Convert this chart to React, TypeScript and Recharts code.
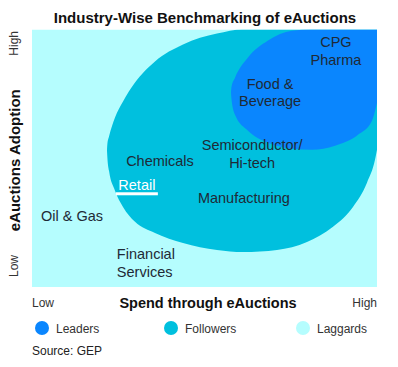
import React from 'react';
import { ComposedChart, Area, XAxis, YAxis, Scatter, Label } from 'recharts';

const FONT = '"Liberation Sans", Arial, Helvetica, sans-serif';

const title = 'Industry-Wise Benchmarking of eAuctions';
const xAxisTitle = 'Spend through eAuctions';
const yAxisTitle = 'eAuctions Adoption';
const axisTicks = [0, 100];
const tickLabels = ['Low', 'High'];
const segments = ['Leaders', 'Followers', 'Laggards'];
const segmentColors = ['#0a86fe', '#00c0de', '#b5fdfe'];
const sourceText = 'Source: GEP';

// Segment outlines on a 0-100 spend (x) / adoption (y) scale: [low, high]
const laggardsOutline = [
  { x: 0, range: [0, 100] },
  { x: 100, range: [0, 100] },
];

const followersOutline = [
  { x: 21.74, range: [52.9, 52.9] },
  { x: 21.85, range: [50.2, 55.6] },
  { x: 22.32, range: [45.1, 58.4] },
  { x: 24.06, range: [37.4, 65.8] },
  { x: 26.38, range: [31.1, 72.0] },
  { x: 29.86, range: [25.3, 79.4] },
  { x: 35.65, range: [21.0, 87.6] },
  { x: 43.77, range: [17.1, 94.2] },
  { x: 53.62, range: [14.4, 98.4] },
  { x: 61.16, range: [13.6, 100] },
  { x: 71.01, range: [14.4, 100] },
  { x: 79.71, range: [17.5, 100] },
  { x: 87.25, range: [23.4, 100] },
  { x: 93.04, range: [31.1, 100] },
  { x: 97.1, range: [40.5, 100] },
  { x: 99.42, range: [49.4, 100] },
  { x: 100, range: [53.3, 100] },
];

const leadersOutline = [
  { x: 57.68, range: [75.5, 75.5] },
  { x: 57.83, range: [72.8, 77.8] },
  { x: 58.84, range: [66.9, 81.3] },
  { x: 62.61, range: [60.7, 89.1] },
  { x: 68.41, range: [56.0, 95.7] },
  { x: 75.36, range: [53.7, 99.5] },
  { x: 81.16, range: [53.3, 100] },
  { x: 87.83, range: [54.9, 100] },
  { x: 94.49, range: [59.1, 100] },
  { x: 98.55, range: [64.6, 100] },
  { x: 100, range: [71.6, 100] },
];

const industries = [
  { name: 'CPG\nPharma', x: 88.1, y: 91.6 },
  { name: 'Food &\nBeverage', x: 69.0, y: 75.5 },
  { name: 'Semiconductor/\nHi-tech', x: 63.8, y: 51.6 },
  { name: 'Chemicals', x: 37.1, y: 49.0 },
  { name: 'Retail', x: 30.4, y: 39.7 },
  { name: 'Manufacturing', x: 61.4, y: 34.6 },
  { name: 'Oil & Gas', x: 11.6, y: 27.6 },
  { name: 'Financial\nServices', x: 24.6, y: 9.3 },
];

const highlighted = 'Retail';
const leftAligned = 'Financial\nServices';

const IndustryLabel = (props: any) => {
  const { cx, cy, payload } = props;
  const lines: string[] = String(payload.name).split('\n');
  const isHighlight = payload.name === highlighted;
  const anchor = payload.name === leftAligned ? 'start' : 'middle';
  const lh = 17.5;
  const startY = cy - ((lines.length - 1) * lh) / 2 + 5;
  return (
    <g>
      {lines.map((l, i) => (
        <text
          key={i}
          x={cx}
          y={startY + i * lh}
          textAnchor={anchor}
          fontSize={14.5}
          fontFamily={FONT}
          fill={isHighlight ? '#ffffff' : '#1f2a36'}
        >
          {l}
        </text>
      ))}
      {isHighlight && <rect x={cx - 21} y={cy + 7.5} width={42} height={3} fill="#ffffff" />}
    </g>
  );
};

const XTick = (props: any) => {
  const { x, y, payload } = props;
  const idx = axisTicks.indexOf(payload.value);
  return (
    <text x={x} y={y + 12} textAnchor={idx === 0 ? 'start' : 'end'} fontSize={12} fontFamily={FONT} fill="#333">
      {tickLabels[idx]}
    </text>
  );
};

const YTick = (props: any) => {
  const { x, y, payload } = props;
  const idx = axisTicks.indexOf(payload.value);
  const tx = x - 6;
  const ty = idx === 0 ? y - 10 : y + 1.5;
  return (
    <text
      x={tx}
      y={ty}
      transform={`rotate(-90, ${tx}, ${ty})`}
      textAnchor={idx === 0 ? 'start' : 'end'}
      fontSize={12}
      fontFamily={FONT}
      fill="#333"
    >
      {tickLabels[idx]}
    </text>
  );
};

const XTitle = (props: any) => {
  const vb = props.viewBox;
  return (
    <text x={vb.x + vb.width / 2 + 3.5} y={vb.y + 21} textAnchor="middle" fontSize={14.5} fontWeight="bold" fontFamily={FONT} fill="#111">
      {xAxisTitle}
    </text>
  );
};

const YTitle = (props: any) => {
  const vb = props.viewBox;
  const tx = 19.5;
  const ty = vb.y + vb.height / 2 + 2;
  return (
    <text x={tx} y={ty} transform={`rotate(-90, ${tx}, ${ty})`} textAnchor="middle" fontSize={15} fontWeight="bold" fontFamily={FONT} fill="#111">
      {yAxisTitle}
    </text>
  );
};

const legendX = [42, 171, 303];

export default function App() {
  return (
    <div style={{ position: 'absolute', left: 0, top: 0, width: 398, height: 367, background: '#fff', fontFamily: FONT }}>
      <ComposedChart width={398} height={367} margin={{ top: 29.5, right: 21, bottom: 48, left: 0 }}>
        <XAxis
          type="number"
          dataKey="x"
          domain={[0, 100]}
          ticks={axisTicks}
          interval={0}
          height={32}
          axisLine={false}
          tickLine={false}
          tick={<XTick />}
          allowDataOverflow
        >
          <Label content={<XTitle />} />
        </XAxis>
        <YAxis
          type="number"
          dataKey="y"
          domain={[0, 100]}
          ticks={axisTicks}
          interval={0}
          width={32}
          axisLine={false}
          tickLine={false}
          tick={<YTick />}
          allowDataOverflow
        >
          <Label content={<YTitle />} />
        </YAxis>
        <Area data={laggardsOutline} dataKey="range" type="linear" fill={segmentColors[2]} fillOpacity={1} stroke="none" isAnimationActive={false} />
        <Area data={followersOutline} dataKey="range" type="monotone" fill={segmentColors[1]} fillOpacity={1} stroke="none" isAnimationActive={false} />
        <Area data={leadersOutline} dataKey="range" type="monotone" fill={segmentColors[0]} fillOpacity={1} stroke="none" isAnimationActive={false} />
        <Scatter data={industries} dataKey="y" shape={IndustryLabel} isAnimationActive={false} />
      </ComposedChart>
      <svg width={398} height={367} style={{ position: 'absolute', left: 0, top: 0, pointerEvents: 'none' }}>
        <text x={205} y={23} textAnchor="middle" fontSize={15} fontWeight="bold" fontFamily={FONT} fill="#111">
          {title}
        </text>
        {segments.map((s, i) => (
          <g key={s}>
            <circle cx={legendX[i]} cy={328} r={7} fill={segmentColors[i]} />
            <text x={legendX[i] + 14} y={332.5} fontSize={12} fontFamily={FONT} fill="#333">
              {s}
            </text>
          </g>
        ))}
        <text x={32} y={355} fontSize={12} fontFamily={FONT} fill="#222">
          {sourceText}
        </text>
      </svg>
    </div>
  );
}
